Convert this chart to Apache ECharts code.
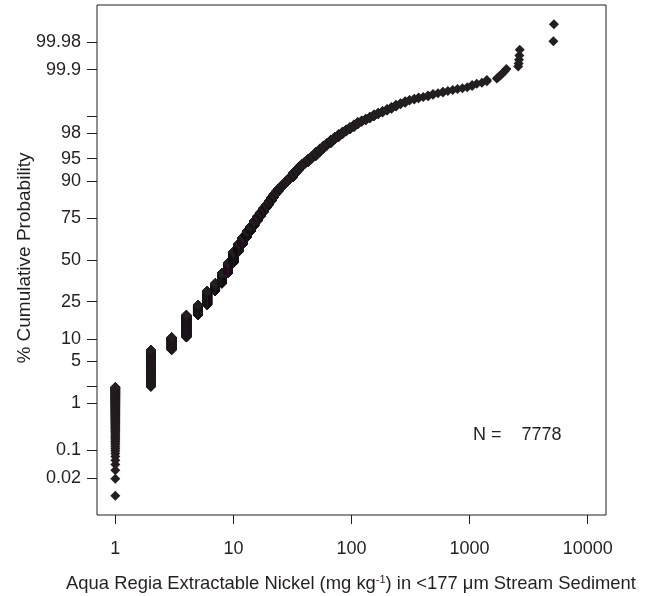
<!DOCTYPE html>
<html><head><meta charset="utf-8">
<script src="https://cdn.jsdelivr.net/npm/echarts@6/dist/echarts.min.js"></script>
<style>html,body{margin:0;padding:0;background:#fff}#c{width:650px;height:596px}</style>
</head><body><div id="c"></div>
<script>
// Frequency table: Ni value (mg/kg) and number of samples at that value
const niValues = [
  1, 2, 3, 4, 5, 6, 7, 8, 9, 10,
  11, 12, 13, 14, 15, 16, 17, 18, 19, 20,
  21, 22, 23, 24, 25, 26, 27, 28, 29, 30,
  32, 34, 36, 38, 40, 43, 46, 50, 54, 58,
  62, 67, 72, 78, 84, 90, 97, 105, 113, 122,
  132, 143, 155, 168, 183, 200, 218, 238, 260, 285,
  310, 340, 370, 405, 445, 490, 540, 595, 655, 720,
  790, 870, 955, 1050, 1150, 1270, 1400,
  1700, 1760, 1830, 1900, 1980, 2050, 2580, 2600, 2620, 2640, 2660, 5120, 5180
];
const sampleCounts = [
  153, 407, 257, 630, 366, 575, 350, 498, 506, 552,
  389, 334, 280, 218, 218, 194, 156, 147, 117, 117,
  114, 95, 76, 66, 56, 48, 45, 43, 40, 38,
  81, 59, 51, 36, 32, 44, 36, 45, 35, 28,
  22, 27, 19, 19, 15, 12, 12, 12, 11, 6,
  7, 7, 7, 5, 5, 5, 5, 5, 3, 4,
  2, 2, 2, 1, 2, 2, 1, 2, 1, 1,
  1, 1, 1, 2, 1, 1, 2,
  1, 1, 1, 1, 1, 1, 1, 1, 1, 1, 1, 1, 1
];
const xTickValues = [1, 10, 100, 1000, 10000];
const xTickLabels = ['1', '10', '100', '1000', '10000'];
const yTickPercents = [0.02, 0.1, 1, 2, 5, 10, 25, 50, 75, 90, 95, 98, 99, 99.9, 99.98];
const yTickLabels = ['0.02', '0.1', '1', '', '5', '10', '25', '50', '75', '90', '95', '98', '', '99.9', '99.98'];

// inverse standard normal CDF (probability-paper scale)
function probit(p) {
  const a=[-3.969683028665376e+01,2.209460984245205e+02,-2.759285104469687e+02,1.383577518672690e+02,-3.066479806614716e+01,2.506628277459239e+00];
  const b=[-5.447609879822406e+01,1.615858368580409e+02,-1.556989798598866e+02,6.680131188771972e+01,-1.328068155288572e+01];
  const c=[-7.784894002430293e-03,-3.223964580411365e-01,-2.400758277161838e+00,-2.549671010422254e+00,4.374664141464968e+00,2.938163982698783e+00];
  const d=[7.784695709041462e-03,3.224671290700398e-01,2.445134137142996e+00,3.754408661907416e+00];
  const pl = 0.02425, ph = 1 - pl;
  let q, r;
  if (p < pl) { q = Math.sqrt(-2*Math.log(p)); return (((((c[0]*q+c[1])*q+c[2])*q+c[3])*q+c[4])*q+c[5])/((((d[0]*q+d[1])*q+d[2])*q+d[3])*q+1); }
  if (p <= ph) { q = p - 0.5; r = q*q; return (((((a[0]*r+a[1])*r+a[2])*r+a[3])*r+a[4])*r+a[5])*q/(((((b[0]*r+b[1])*r+b[2])*r+b[3])*r+b[4])*r+1); }
  q = Math.sqrt(-2*Math.log(1-p)); return -(((((c[0]*q+c[1])*q+c[2])*q+c[3])*q+c[4])*q+c[5])/((((d[0]*q+d[1])*q+d[2])*q+d[3])*q+1);
}

// ranked samples -> plotting positions (rank - 0.5) / N
const sampleCount = sampleCounts.reduce((s, c) => s + c, 0);
const points = [];
let rank = 0;
niValues.forEach((v, k) => {
  for (let j = 0; j < sampleCounts[k]; j++) {
    rank++;
    points.push([Math.log10(v), probit((rank - 0.5) / sampleCount)]);
  }
});

const xTickPos = xTickValues.map(v => Math.log10(v));
const yTickZ = yTickPercents.map(p => probit(p / 100));
const yLabelZ = yTickZ.filter((z, i) => yTickLabels[i] !== '');

const FONT = "'Liberation Sans', Arial, Helvetica, sans-serif";
const INK = '#231f20';

const chart = echarts.init(document.getElementById('c'), null, {renderer: 'canvas'});
chart.setOption({
  animation: false,
  backgroundColor: '#fff',
  grid: {left: 97, top: 5, right: 44, bottom: 81, show: true, borderColor: '#1e1e1e', borderWidth: 1, backgroundColor: 'transparent'},
  xAxis: {
    type: 'value', min: -0.155, max: 4.155,
    splitLine: {show: false},
    axisLine: {show: false, onZero: false},
    axisTick: {show: true, inside: false, length: 9, lineStyle: {color: '#1e1e1e', width: 1}, customValues: xTickPos},
    axisLabel: {show: true, margin: 25, fontSize: 18, fontFamily: FONT, color: INK, customValues: xTickPos,
      formatter: v => { const i = xTickPos.findIndex(t => Math.abs(t - v) < 1e-6); return i >= 0 ? xTickLabels[i] : ''; }}
  },
  yAxis: {
    type: 'value', min: -4.14, max: 4.14,
    splitLine: {show: false},
    axisLine: {show: false, onZero: false},
    axisTick: {show: true, inside: false, length: 10, lineStyle: {color: '#1e1e1e', width: 1}, customValues: yTickZ},
    axisLabel: {show: true, margin: 16, fontSize: 18, fontFamily: FONT, color: INK, customValues: yLabelZ,
      formatter: v => { const i = yTickZ.findIndex(t => Math.abs(t - v) < 1e-6); return i >= 0 ? yTickLabels[i] : ''; }}
  },
  series: [{
    type: 'scatter',
    data: points,
    symbol: 'diamond',
    symbolSize: 10,
    itemStyle: {color: INK, opacity: 1},
    emphasis: {disabled: true},
    silent: true
  }],
  graphic: [
    {type: 'text', x: 25, y: 258, rotation: Math.PI / 2,
      style: {text: '% Cumulative Probability', fontSize: 19, fontFamily: FONT, fill: INK, align: 'center', verticalAlign: 'middle'}},
    {type: 'text', x: 351, y: 584,
      style: {text: 'Aqua Regia Extractable Nickel (mg kg{sup|-1}) in <177 μm Stream Sediment', fontSize: 18.4, fontFamily: FONT, fill: INK,
        align: 'center', verticalAlign: 'middle',
        rich: {sup: {fontSize: 11, fontFamily: FONT, fill: INK, padding: [0, 0, 9, 0]}}}},
    {type: 'text', x: 473, y: 435,
      style: {text: 'N =    ' + sampleCount, fontSize: 18, fontFamily: FONT, fill: INK, align: 'left', verticalAlign: 'middle'}}
  ]
});
</script>
</body></html>
